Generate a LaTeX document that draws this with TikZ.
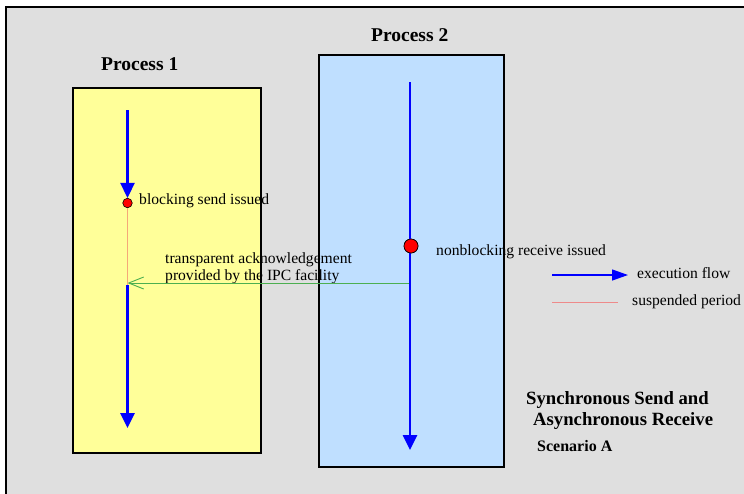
\documentclass[tikz,border=0pt]{standalone}
\usepackage{fontspec}
\setmainfont{Liberation Serif}
\usetikzlibrary{arrows.meta}
\definecolor{panelgray}{HTML}{DFDFDF}
\definecolor{procyellow}{HTML}{FFFF99}
\definecolor{procblue}{HTML}{BFDFFF}
\definecolor{flowblue}{HTML}{0000FF}
\definecolor{suspend}{HTML}{F5A878}
\definecolor{legendred}{HTML}{EE8A8A}
\definecolor{ackgreen}{HTML}{4CAF50}
\begin{document}
\begin{tikzpicture}[x=1pt,y=-1pt,
  procbox/.style={draw=black,line width=1.5pt,inner sep=0pt,anchor=north west},
  title/.style={font=\fontsize{19.5}{22}\selectfont\bfseries,inner sep=0pt,anchor=base west},
  label/.style={font=\fontsize{15.6}{17.5}\selectfont,inner sep=0pt,anchor=base west},
  flow/.style={draw=flowblue,line width=2.6pt,-{Triangle[length=15pt,width=14pt]}},
  event/.style={circle,draw=black,line width=0.6pt,fill=red,inner sep=0pt},
  suspended/.style={draw=suspend,line width=1.6pt},
  ack/.style={draw=ackgreen,line width=0.9pt,-{Straight Barb[length=15pt,width=12pt,line width=0.9pt]}}]
\useasboundingbox (0,0) rectangle (744,493);

% framed grey panel, running past the right and bottom edges
\begin{scope}
  \clip (0,0) rectangle (744,493);
  \draw[line width=2.2pt,fill=panelgray] (6,7) rectangle (770,520);
\end{scope}

% the two processes
\node[procbox,fill=procyellow,minimum width=188pt,minimum height=365pt] (p1) at (72,87) {};
\node[procbox,fill=procblue,minimum width=185pt,minimum height=412pt] (p2) at (318,54) {};
\node[title] (p1title) at (101,70) {Process 1};
\node[title] (p2title) at (371,41) {Process 2};

% events
\node[event,minimum size=9.5pt] (send) at (127.5,203) {};
\node[event,minimum size=14pt] (recv) at (411,246) {};
\node[label] (sendlbl) at (139,204) {blocking send issued};
\node[label] (recvlbl) at (436,255) {nonblocking receive issued};
\node[label,align=left,anchor=north west] (acklbl) at (165,252)
  {transparent acknowledgement\\provided by the IPC facility};

% flow coordinates
\coordinate (p1start) at (127.5,110);
\coordinate (p1resume) at (127.5,285);
\coordinate (p1end) at (127.5,428);
\coordinate (p2start) at (410,82);
\coordinate (p2end) at (410,450);
\coordinate (ackfrom) at (410,283);
\coordinate (ackto) at (127.5,283);

% acknowledgement from process 2 back to process 1
\draw[ack] (ackfrom) -- (ackto);

% process 1: runs, blocks while sending, resumes
\draw[flow] (p1start) -- (send.north);
\draw[suspended] (send.south) -- (p1resume);
\draw[flow] (p1resume) -- (p1end);

% process 2: runs without blocking
\draw[flow] (p2start) -- (p2end);
\node[event,minimum size=14pt] at (recv) {};

% legend
\coordinate (lgflowA) at (552,275);
\coordinate (lgflowB) at (628,275);
\coordinate (lgsuspA) at (552,302);
\coordinate (lgsuspB) at (618,302);
\draw[draw=flowblue,line width=1.3pt,-{Triangle[length=16pt,width=11pt]}] (lgflowA) -- (lgflowB);
\draw[draw=legendred,line width=0.8pt] (lgsuspA) -- (lgsuspB);
\node[label] (lgflow) at (637,278) {execution flow};
\node[label] (lgsusp) at (632,305) {suspended period};

% caption
\node[title,font=\fontsize{18.7}{22}\selectfont\bfseries] (cap1) at (526,404) {Synchronous Send and};
\node[title,font=\fontsize{18.7}{22}\selectfont\bfseries] (cap2) at (533,425) {Asynchronous Receive};
\node[title,font=\fontsize{16}{19}\selectfont\bfseries] (cap3) at (537,451) {Scenario A};
\end{tikzpicture}
\end{document}
